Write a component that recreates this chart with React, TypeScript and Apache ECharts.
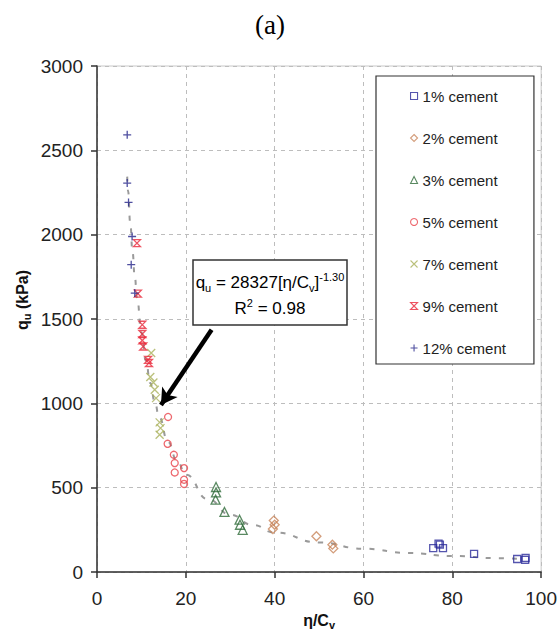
import React, { useEffect, useRef } from "react";
import * as echarts from "echarts";

const FONT = "'Liberation Sans', Arial, sans-serif";

const seriesNames = ["1% cement", "2% cement", "3% cement", "5% cement", "7% cement", "9% cement", "12% cement"];

const cement1 = [[75.7, 142], [76.9, 168], [77.2, 162], [77.9, 142], [84.9, 108], [94.6, 77], [96.5, 83], [96.4, 72]];
const cement2 = [[39.8, 305], [40.0, 280], [39.6, 255], [49.4, 212], [53.0, 162], [53.2, 140]];
const cement3 = [[26.8, 504], [26.8, 472], [26.7, 429], [28.7, 356], [32.1, 310], [32.2, 280], [32.8, 250]];
const cement5 = [[16.0, 919], [15.9, 760], [17.3, 695], [17.5, 646], [17.5, 590], [19.6, 616], [19.6, 547], [19.6, 522]];
const cement7 = [[12.2, 1298], [12.0, 1156], [12.7, 1124], [13.0, 1081], [13.3, 1031], [14.1, 887], [14.3, 853], [14.1, 814]];
const cement9 = [[9.0, 1950], [9.2, 1650], [10.2, 1466], [10.2, 1411], [10.2, 1373], [10.4, 1337], [11.5, 1258], [11.7, 1239]];
const cement12 = [[6.8, 2592], [6.8, 2306], [7.1, 2191], [7.9, 1989], [7.7, 1822], [8.5, 1654]];

// fitted trend curve
const trendX = [6.8, 7, 7.5, 8, 8.5, 9, 10, 11, 12, 13, 14, 16, 18, 20, 25, 30, 35, 40, 50, 60, 70, 80, 90, 96];
const trendY = [2344, 2257, 2064, 1897, 1754, 1628, 1420, 1254, 1120, 1009, 917, 771, 661, 577, 431, 340, 279, 234, 175, 138, 113, 95, 82, 75];

const xMin = 0, xMax = 100, xStep = 20;
const yMin = 0, yMax = 3000, yStep = 500;

// arrow from annotation box to the curve
const arrowStart = [25.8, 1436];
const arrowEnd = [14.4, 990];

export default function App() {
  const ref = useRef<HTMLDivElement>(null);
  useEffect(() => {
    if (!ref.current) return;
    const chart = echarts.init(ref.current, undefined, { renderer: "svg" });
    const mk = (name: string, data: number[][], symbol: string, size: number, color: string) => ({
      name,
      type: "scatter",
      data,
      symbol,
      symbolSize: size,
      itemStyle: { color: "rgba(0,0,0,0)", borderColor: color, borderWidth: 1.3 },
      emphasis: { disabled: true },
      z: 3,
    });
    const trend = trendX.map((x, i) => [x, trendY[i]]);
    const subRich = {
      m: { fontSize: 17, lineHeight: 22, fontFamily: FONT, color: "#111" },
      s: { fontSize: 11, lineHeight: 12, verticalAlign: "bottom", fontFamily: FONT, color: "#111" },
      p: { fontSize: 11, lineHeight: 12, verticalAlign: "top", fontFamily: FONT, color: "#111" },
    };
    chart.setOption({
      animation: false,
      backgroundColor: "#fff",
      title: {
        text: "(a)",
        left: 250,
        top: 6,
        textStyle: { fontFamily: "'Liberation Serif', 'Times New Roman', serif", fontSize: 27, fontWeight: "normal", color: "#000" },
      },
      grid: { left: 97, right: 18, top: 66, bottom: 65, show: true, borderColor: "#c8c8c8", borderWidth: 1, backgroundColor: "#fff" },
      xAxis: {
        type: "value",
        min: xMin,
        max: xMax,
        interval: xStep,
        name: "{b|η/C}{bs|v}",
        nameLocation: "middle",
        nameGap: 24,
        nameTextStyle: {
          rich: {
            b: { fontSize: 16, fontWeight: "bold", fontFamily: FONT, color: "#111", lineHeight: 20 },
            bs: { fontSize: 11, fontWeight: "bold", fontFamily: FONT, color: "#111", lineHeight: 12, verticalAlign: "bottom" },
          },
        },
        axisLine: { lineStyle: { color: "#333", width: 1.5 } },
        axisTick: { length: 6, lineStyle: { color: "#333", width: 1.5 } },
        axisLabel: { fontSize: 19, color: "#222", fontFamily: FONT, margin: 17, formatter: (v: number) => String(v) },
        splitLine: { show: true, lineStyle: { color: "#bdbdbd", type: [4, 4], width: 1 } },
      },
      yAxis: {
        type: "value",
        min: yMin,
        max: yMax,
        interval: yStep,
        axisLine: { show: true, lineStyle: { color: "#333", width: 1.5 } },
        axisTick: { show: true, length: 6, lineStyle: { color: "#333", width: 1.5 } },
        axisLabel: { fontSize: 19, color: "#222", fontFamily: FONT, margin: 14, formatter: (v: number) => String(v) },
        splitLine: { show: true, lineStyle: { color: "#bdbdbd", type: [4, 4], width: 1 } },
      },
      legend: {
        data: seriesNames,
        orient: "vertical",
        left: 376,
        top: 76,
        padding: [12, 28, 8, 34],
        itemGap: 26,
        itemWidth: 7,
        itemHeight: 7,
        backgroundColor: "#fff",
        borderColor: "#333",
        borderWidth: 1.2,
        selectedMode: false,
        textStyle: { fontSize: 15, lineHeight: 16, color: "#222", fontFamily: FONT },
        itemStyle: { borderWidth: 1.1 },
      },
      series: [
        {
          name: "trend",
          type: "line",
          data: trend,
          smooth: true,
          smoothMonotone: "x",
          showSymbol: false,
          silent: true,
          lineStyle: { color: "#9a9a9a", width: 2, type: [5, 8] },
          z: 2,
          markLine: {
            silent: true,
            symbol: ["none", "arrow"],
            symbolSize: [14, 16],
            label: { show: false },
            lineStyle: { color: "#000", width: 4.5, type: "solid" },
            emphasis: { disabled: true },
            data: [[{ coord: arrowStart }, { coord: arrowEnd }]],
            z: 5,
          },
        },
        mk(seriesNames[0], cement1, "rect", 7, "#2b2b9a"),
        mk(seriesNames[1], cement2, "diamond", 9, "#c8845a"),
        mk(seriesNames[2], cement3, "triangle", 9, "#2f6b3a"),
        mk(seriesNames[3], cement5, "circle", 7, "#e8424a"),
        mk(seriesNames[4], cement7, "path://M0,0L10,10M10,0L0,10", 8, "#a9b05a"),
        mk(seriesNames[5], cement9, "path://M0,0L10,0L0,10L10,10Z", 7, "#e8283a"),
        mk(seriesNames[6], cement12, "path://M5,0L5,10M0,5L10,5", 8, "#232388"),
      ],
      graphic: [
        {
          type: "rect",
          z: 10,
          shape: { x: 193, y: 260, width: 154, height: 65 },
          style: { fill: "#fff", stroke: "#333", lineWidth: 1.5 },
        },
        {
          type: "text",
          z: 11,
          x: 270,
          y: 282,
          style: { text: "{m|q}{s|u}{m| = 28327[η/C}{s|v}{m|]}{p|-1.30}", rich: subRich, align: "center", verticalAlign: "middle" },
        },
        {
          type: "text",
          z: 11,
          x: 270,
          y: 308,
          style: { text: "{m|R}{p|2}{m| = 0.98}", rich: subRich, align: "center", verticalAlign: "middle" },
        },
        {
          type: "text",
          z: 11,
          x: 22,
          y: 300,
          rotation: Math.PI / 2,
          style: {
            text: "{b|q}{bs|u}{b| (kPa)}",
            rich: {
              b: { fontSize: 16, fontWeight: "bold", fontFamily: FONT, fill: "#111", color: "#111", lineHeight: 20 },
              bs: { fontSize: 11, fontWeight: "bold", fontFamily: FONT, fill: "#111", color: "#111", lineHeight: 12, verticalAlign: "bottom" },
            },
            align: "center",
            verticalAlign: "middle",
          },
        },
      ],
    });
    return () => chart.dispose();
  }, []);
  return <div ref={ref} style={{ position: "absolute", left: 0, top: 0, width: 560, height: 637 }} />;
}
